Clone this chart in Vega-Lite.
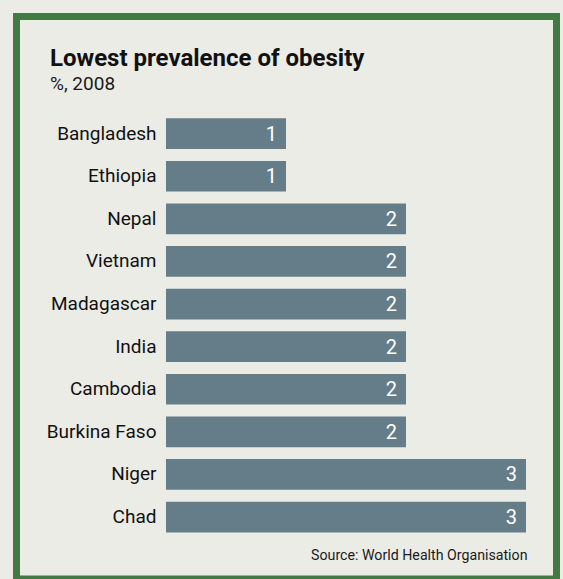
{
  "$schema": "https://vega.github.io/schema/vega-lite/v6.json",
  "width": 540,
  "height": 562.5,
  "autosize": {"type": "none"},
  "padding": {"left": 16.5, "top": 16.5, "right": 6.5, "bottom": 0},
  "background": "#ecece7",
  "config": {
    "view": {"stroke": "#437a44", "strokeWidth": 7, "fill": "#ecece7"},
    "font": "Roboto"
  },
  "title": {
    "text": "Lowest prevalence of obesity",
    "subtitle": "%, 2008",
    "anchor": "start",
    "frame": "group",
    "dx": 33.5,
    "offset": -77,
    "fontSize": 24,
    "fontWeight": "bold",
    "color": "#111111",
    "font": "Roboto",
    "subtitleFont": "Roboto",
    "subtitleFontSize": 19,
    "subtitleColor": "#1a1a1a",
    "subtitlePadding": 4
  },
  "data": {
    "values": [
      {"country": "Bangladesh", "value": 1},
      {"country": "Ethiopia", "value": 1},
      {"country": "Nepal", "value": 2},
      {"country": "Vietnam", "value": 2},
      {"country": "Madagascar", "value": 2},
      {"country": "India", "value": 2},
      {"country": "Cambodia", "value": 2},
      {"country": "Burkina Faso", "value": 2},
      {"country": "Niger", "value": 3},
      {"country": "Chad", "value": 3}
    ]
  },
  "encoding": {
    "y": {
      "field": "country",
      "type": "nominal",
      "sort": null,
      "scale": {
        "domain": ["_a", "_b", "Bangladesh", "Ethiopia", "Nepal", "Vietnam", "Madagascar", "India", "Cambodia", "Burkina Faso", "Niger", "Chad", "_c"],
        "paddingInner": 0.2793,
        "paddingOuter": 0.2417,
        "align": 0.806
      },
      "axis": {
        "title": null,
        "orient": "left",
        "offset": -149.5,
        "domain": false,
        "ticks": false,
        "labelPadding": 10,
        "labelFontSize": 19,
        "labelColor": "#111111",
        "labelFont": "Roboto",
        "labelExpr": "indexof(datum.label, '_') == 0 ? '' : datum.label"
      }
    },
    "x": {
      "field": "value",
      "type": "quantitative",
      "scale": {"domain": [-1.2458, 3.2542], "nice": false, "zero": false},
      "axis": {
        "orient": "bottom",
        "labels": false,
        "ticks": false,
        "domain": false,
        "grid": false,
        "title": "Source: World Health Organisation",
        "titleAnchor": "end",
        "titleAlign": "right",
        "titleBaseline": "alphabetic",
        "titleFontSize": 14.2,
        "titleFontWeight": "normal",
        "titleColor": "#1a1a1a",
        "titleFont": "Roboto",
        "titleX": 510.5,
        "titleY": -19.7
      }
    }
  },
  "layer": [
    {
      "mark": {"type": "bar", "color": "#647d88"},
      "encoding": {"x2": {"datum": 0}}
    },
    {
      "mark": {"type": "text", "align": "right", "dx": -9, "color": "#ffffff", "fontSize": 20, "baseline": "middle", "dy": 1},
      "encoding": {"text": {"field": "value", "type": "quantitative"}}
    }
  ]
}
